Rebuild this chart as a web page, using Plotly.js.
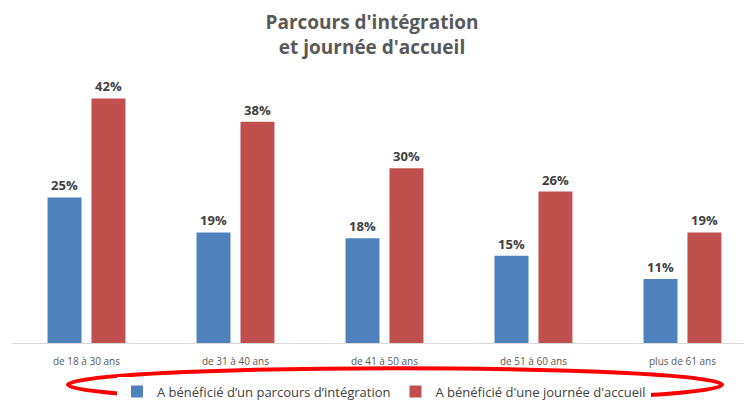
<!DOCTYPE html>
<html>
<head>
<meta charset="utf-8">
<script src="https://cdn.plot.ly/plotly-3.0.1.min.js"></script>
<style>html,body{margin:0;padding:0;background:#fff;}#chart{width:744px;height:407px;}</style>
</head>
<body>
<div id="chart"></div>
<script>
const categories = ["de 18 à 30 ans", "de 31 à 40 ans", "de 41 à 50 ans", "de 51 à 60 ans", "plus de 61 ans"];
const parcoursIntegration = [25, 19, 18, 15, 11];
const journeeAccueil = [42, 38, 30, 26, 19];
const seriesNames = ["A bénéficié d’un parcours d’intégration", "A bénéficié d'une journée d'accueil"];

const labelFont = {family: "Open Sans, Lato, sans-serif", size: 13, color: "#404040", weight: "bold"};

const traces = [
  {type: "bar", x: categories, y: parcoursIntegration, name: seriesNames[0],
   marker: {color: "#4F81BD"}, texttemplate: "<b>%{y}%</b>", textposition: "outside",
   textfont: labelFont, cliponaxis: false, hoverinfo: "skip"},
  {type: "bar", x: categories, y: journeeAccueil, name: seriesNames[1],
   marker: {color: "#C0504D"}, texttemplate: "<b>%{y}%</b>", textposition: "outside",
   textfont: labelFont, cliponaxis: false, hoverinfo: "skip"}
];

const ml = 12, mr = 0, mt = 81, mb = 56;
const W = 744, H = 407;
const pw = W - ml - mr, ph = H - mt - mb;
function px2x(p){ return (p - ml) / pw; }
function py2y(p){ return (H - mb - p) / ph; }

const layout = {
  width: W, height: H,
  margin: {l: ml, r: mr, t: mt, b: mb, pad: 0},
  paper_bgcolor: "#fff", plot_bgcolor: "#fff",
  font: {family: "Open Sans, Lato, sans-serif", color: "#595959"},
  title: {text: "<b>Parcours d'intégration<br>et journée d'accueil</b>",
          font: {family: "Open Sans, Lato, sans-serif", size: 19, color: "#595959"},
          x: 0.5, xanchor: "center", y: 0.928, yanchor: "top", yref: "container"},
  barmode: "group", bargap: 0.41, bargroupgap: 0.227,
  xaxis: {range: [-0.5, 4.413], showline: true, linecolor: "#D9D9D9", linewidth: 1,
          ticks: "", showgrid: false, zeroline: false, ticklabelstandoff: 9,
          tickfont: {size: 10, color: "#595959"}, fixedrange: true},
  yaxis: {range: [0, 45], visible: false, showgrid: false, zeroline: false, fixedrange: true},
  showlegend: true,
  legend: {orientation: "h", x: px2x(384), xanchor: "center", y: py2y(401), yanchor: "middle",
           font: {size: 13, color: "#404040"}, itemclick: false, traceorder: "normal"},
  shapes: [{type: "circle", xref: "paper", yref: "paper",
            x0: px2x(68), x1: px2x(722), y0: py2y(377), y1: py2y(411),
            line: {color: "#FF0000", width: 4}, fillcolor: "rgba(0,0,0,0)"}]
};

Plotly.newPlot("chart", traces, layout, {displayModeBar: false, staticPlot: true});
</script>
</body>
</html>
